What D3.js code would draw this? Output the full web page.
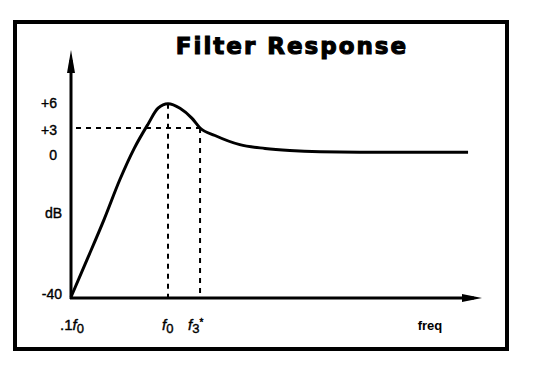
<!DOCTYPE html>
<html>
<head>
<meta charset="utf-8">
<script src="https://cdn.jsdelivr.net/npm/d3@7"></script>
<style>
  body { margin: 0; background: #fff; }
  text { fill: #000; }
</style>
</head>
<body>
<svg id="chart" width="547" height="371" font-family="Liberation Sans, Arial, sans-serif"></svg>
<script>
// frequency as multiple of f0, response in dB
const freqs = [0.1, 0.146, 0.219, 0.32, 0.446, 0.62, 0.79, 1.0, 1.33, 1.76, 2.14, 3.05, 5.5, 10, 18, 37, 95, 1240];
const gainDb = [-40, -29.7, -18.5, -7.3, 0.5, 3.4, 5.2, 5.7, 5.2, 4.1, 3.0, 2.1, 1.0, 0.55, 0.3, 0.15, 0.1, 0.1];

const yTicks = [6, 3, 0, -40];
const yTickLabels = ["+6", "+3", "0", "-40"];
const f0 = 1, f3 = 2.14;

const svg = d3.select("#chart");

// schematic axes: log frequency, stretched dB above 0
const x = d3.scaleLog().domain([0.1, 1]).range([71, 168]);
const y = d3.scaleLinear().domain([-40, 0, 3, 6]).range([297, 153, 128, 101]);

// outer frame
svg.append("rect")
  .attr("x", 15).attr("y", 22)
  .attr("width", 492).attr("height", 327)
  .attr("fill", "none")
  .attr("stroke", "#000")
  .attr("stroke-width", 4);

// title
svg.append("text")
  .attr("x", 292).attr("y", 54)
  .attr("text-anchor", "middle")
  .attr("font-family", "DejaVu Sans")
  .attr("font-size", 23)
  .attr("font-weight", "bold")
  .attr("letter-spacing", 2)
  .attr("stroke", "#000")
  .attr("stroke-width", 1.1)
  .text("Filter Response");

// axes with arrow heads
const x0 = x(0.1), yBase = y(-40) + 1;
svg.append("line")
  .attr("x1", x0).attr("y1", yBase + 1)
  .attr("x2", x0).attr("y2", 60)
  .attr("stroke", "#000").attr("stroke-width", 3);
svg.append("path")
  .attr("d", `M${x0},50 L${x0 - 4},73 L${x0 + 4},73 Z`)
  .attr("fill", "#000");

const xEnd = 482;
svg.append("line")
  .attr("x1", x0 - 1).attr("y1", yBase)
  .attr("x2", xEnd - 8).attr("y2", yBase)
  .attr("stroke", "#000").attr("stroke-width", 3);
svg.append("path")
  .attr("d", `M${xEnd},${yBase} L${xEnd - 20},${yBase - 4} L${xEnd - 20},${yBase + 4} Z`)
  .attr("fill", "#000");

// y tick labels
svg.selectAll(".ytick")
  .data(yTicks)
  .enter().append("text")
  .attr("class", "ytick")
  .attr("x", d => d === -40 ? 62 : 57)
  .attr("y", d => y(d) + (d === -40 ? -3 : 2))
  .attr("dy", "0.35em")
  .attr("text-anchor", "end")
  .attr("font-size", 14)
  .attr("stroke", "#000")
  .attr("stroke-width", 0.4)
  .text((d, i) => yTickLabels[i]);

svg.append("text")
  .attr("x", 62).attr("y", 213)
  .attr("dy", "0.35em")
  .attr("text-anchor", "end")
  .attr("font-size", 14)
  .attr("stroke", "#000")
  .attr("stroke-width", 0.4)
  .text("dB");

// dashed guides
const dash = "5,5";
svg.append("line")
  .attr("x1", x0 + 5).attr("y1", y(3))
  .attr("x2", x(f3)).attr("y2", y(3))
  .attr("stroke", "#000").attr("stroke-width", 2)
  .attr("stroke-dasharray", dash);
svg.append("line")
  .attr("x1", x(f0)).attr("y1", y(5.7))
  .attr("x2", x(f0)).attr("y2", yBase)
  .attr("stroke", "#000").attr("stroke-width", 2)
  .attr("stroke-dasharray", dash);
svg.append("line")
  .attr("x1", x(f3)).attr("y1", y(3))
  .attr("x2", x(f3)).attr("y2", yBase)
  .attr("stroke", "#000").attr("stroke-width", 2)
  .attr("stroke-dasharray", dash);

// response curve
const line = d3.line()
  .x(d => x(d[0]))
  .y(d => y(d[1]))
  .curve(d3.curveMonotoneX);

svg.append("path")
  .datum(freqs.map((f, i) => [f, gainDb[i]]))
  .attr("d", line)
  .attr("fill", "none")
  .attr("stroke", "#000")
  .attr("stroke-width", 3);

// x labels
const xl = svg.append("g")
  .attr("font-size", 15)
  .attr("stroke", "#000")
  .attr("stroke-width", 0.4);

const lab1 = xl.append("text").attr("x", x(0.1) - 11).attr("y", 330);
lab1.append("tspan").text(".1");
lab1.append("tspan").attr("font-style", "italic").text("f");
lab1.append("tspan").attr("dy", 3).attr("font-size", 13).text("0");

const lab2 = xl.append("text").attr("x", x(f0) - 6).attr("y", 330);
lab2.append("tspan").attr("font-style", "italic").text("f");
lab2.append("tspan").attr("dy", 3).attr("font-size", 13).text("0");

const lab3 = xl.append("text").attr("x", x(f3) - 12).attr("y", 330);
lab3.append("tspan").attr("font-style", "italic").text("f");
lab3.append("tspan").attr("dy", 3).attr("font-size", 13).text("3");
lab3.append("tspan").attr("dy", -7).attr("font-size", 10).text("*");

svg.append("text")
  .attr("x", 430).attr("y", 330)
  .attr("text-anchor", "middle")
  .attr("font-size", 13)
  .attr("font-weight", "bold")
  .text("freq");
</script>
</body>
</html>
